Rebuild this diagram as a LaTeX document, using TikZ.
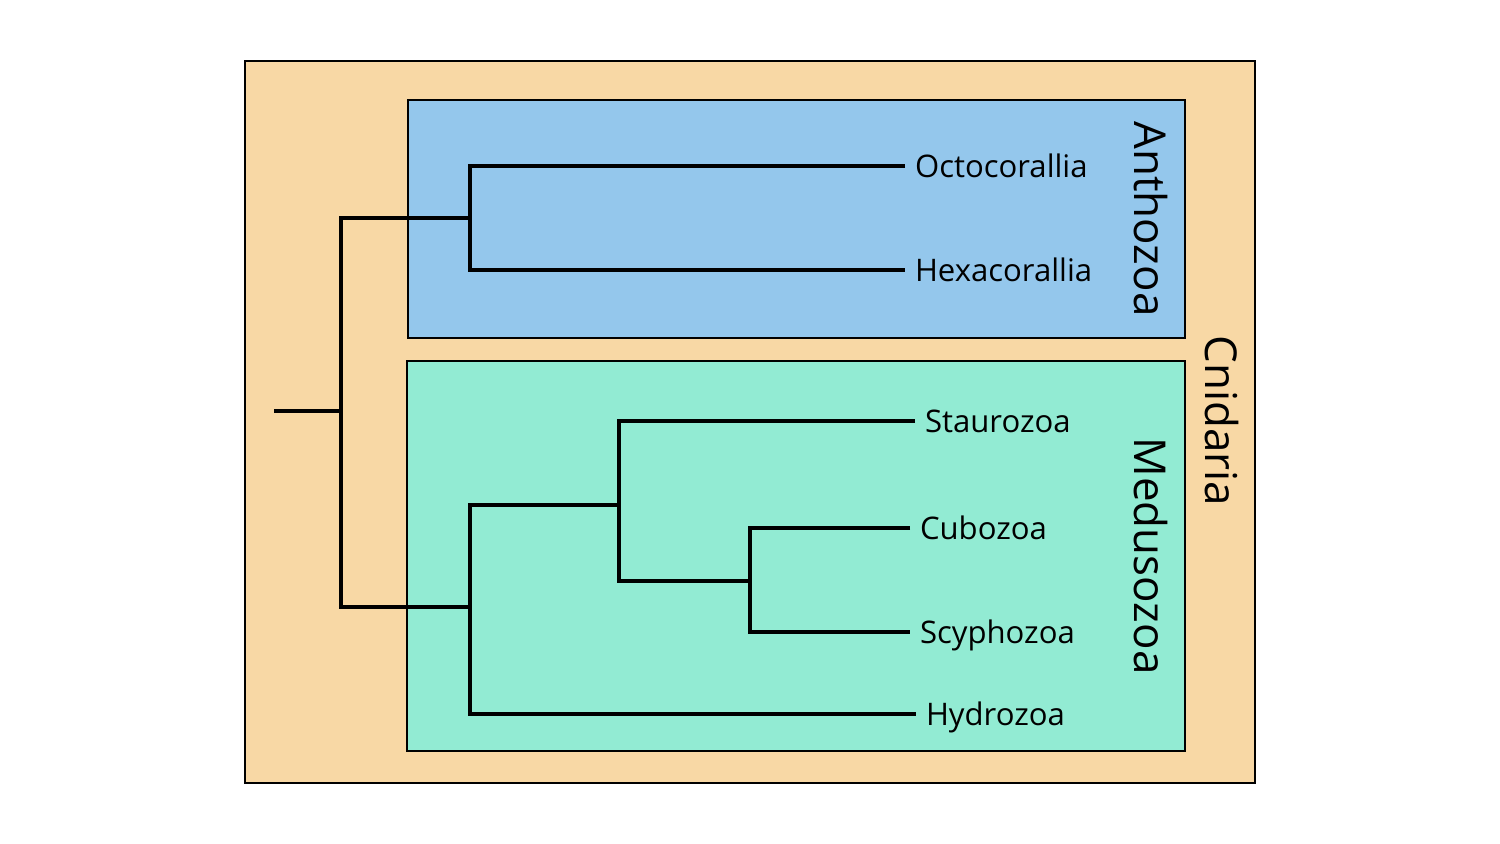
\documentclass[tikz,border=0pt]{standalone}
\usepackage{fontspec}
\setmainfont{Open Sans}
\usetikzlibrary{positioning}
\definecolor{cnidcol}{HTML}{F8D8A5}
\definecolor{anthcol}{HTML}{94C7EC}
\definecolor{meducol}{HTML}{92EBD3}

\begin{document}
\begin{tikzpicture}[x=0.02cm,y=-0.02cm,
  branch/.style={line width=2.5pt,line join=miter},
  cladebox/.style={draw=black,line width=0.8pt},
  taxon/.style={anchor=west,inner xsep=5.5pt,text depth=0pt,font=\fontsize{17.7}{21}\selectfont},
  clade/.style={rotate=-90,inner sep=0pt,font=\fontsize{25}{29}\selectfont}]
\useasboundingbox (0,0) rectangle (1500,844);
% Rahmen der Gruppen
\draw[cladebox,fill=cnidcol] (245,61) rectangle (1255,783);
\draw[cladebox,fill=anthcol] (408,100) rectangle (1185,338);
\draw[cladebox,fill=meducol] (407,361) rectangle (1185,751);
% Gruppennamen (senkrecht)
\node[clade] (anthozoa) at (1151,219) {Anthozoa};
\node[clade] (medusozoa) at (1151,556) {Medusozoa};
\node[clade] (cnidaria) at (1222,421) {Cnidaria};
% Taxa an den Blattern
\node[taxon] (octo) at (905,166) {Octocorallia};
\node[taxon] (hexa) at (905,270) {Hexacorallia};
\node[taxon] (stau) at (915,421) {Staurozoa};
\node[taxon] (cubo) at (910,528) {Cubozoa};
\node[taxon] (scyp) at (910,632) {Scyphozoa};
\node[taxon] (hydr) at (916,714) {Hydrozoa};
% Verzweigungspunkte
\coordinate (stem) at (274,411);
\coordinate (cni) at (341,411);
\coordinate (ant) at (470,218);
\coordinate (med) at (470,607);
\coordinate (stc) at (619,505);
\coordinate (cus) at (750,581);
% Stammbaum
\draw[branch] (stem) -- (cni);
\draw[branch] (ant) -| (cni) |- (med);
\draw[branch] (octo.west) -| (ant) |- (hexa.west);
\draw[branch] (stc) -| (med) |- (hydr.west);
\draw[branch] (stau.west) -| (stc) |- (cus);
\draw[branch] (cubo.west) -| (cus) |- (scyp.west);
\end{tikzpicture}
\end{document}
